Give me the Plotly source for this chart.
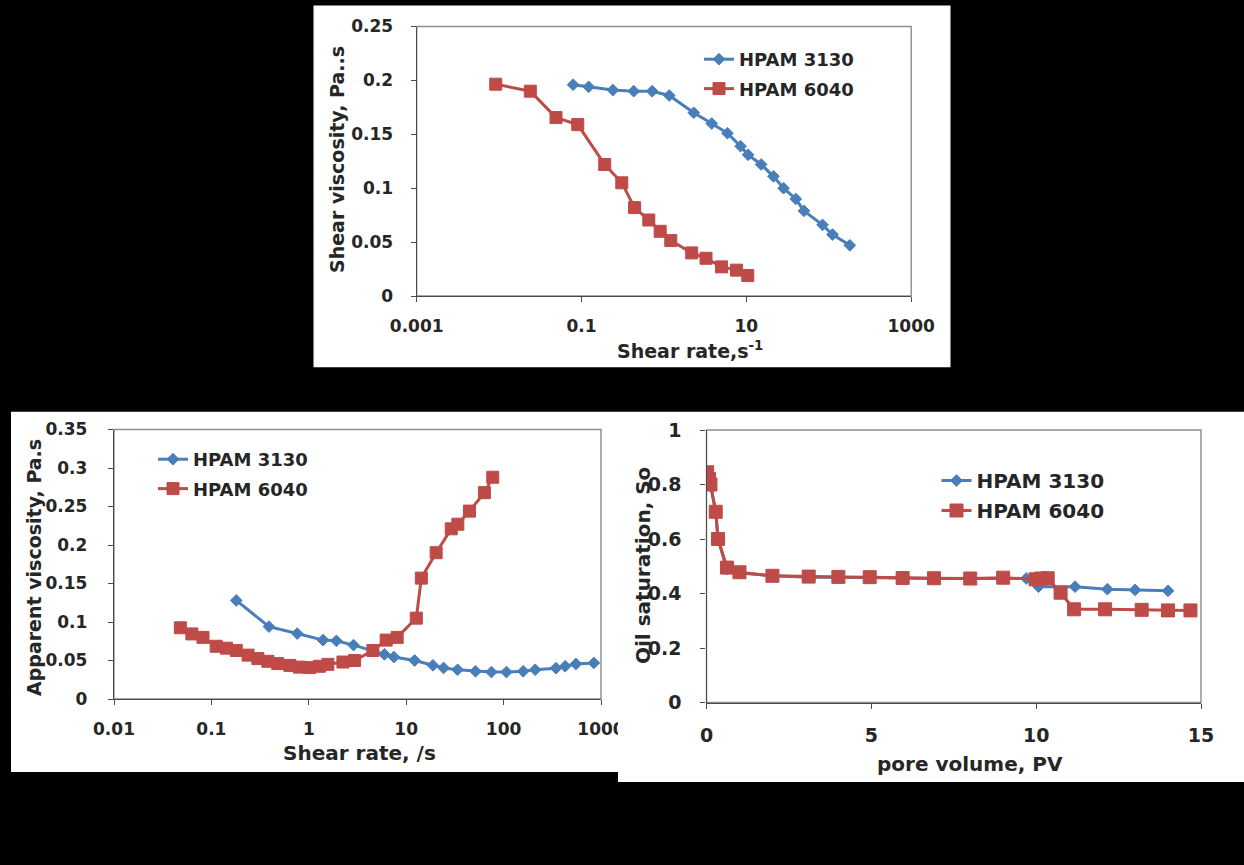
import plotly.graph_objects as go

# ---------------- data ----------------
series_names = ["HPAM 3130", "HPAM 6040"]

# Shear viscosity vs shear rate (top panel)
shear_rate_3130 = [0.079, 0.122, 0.24, 0.43, 0.72, 1.16, 2.3, 3.8, 5.9, 8.5, 10.5,
                   15.1, 21.3, 28.3, 39.8, 50, 84, 111, 180]
shear_visc_3130 = [0.196, 0.194, 0.191, 0.190, 0.190, 0.186, 0.170, 0.160, 0.151, 0.139,
                   0.131, 0.122, 0.111, 0.100, 0.090, 0.079, 0.066, 0.057, 0.047]
shear_rate_6040 = [0.0091, 0.0239, 0.049, 0.090, 0.191, 0.308, 0.44, 0.655, 0.90, 1.21,
                   2.17, 3.24, 5.0, 7.6, 10.4]
shear_visc_6040 = [0.1965, 0.190, 0.1655, 0.159, 0.122, 0.105, 0.082, 0.0705, 0.060,
                   0.0514, 0.040, 0.035, 0.027, 0.024, 0.019]

# Apparent viscosity vs shear rate (bottom-left panel)
app_rate_3130 = [0.18, 0.39, 0.76, 1.40, 1.92, 2.88, 5.98, 7.47, 12.2, 18.8, 24.2, 33.7,
                 51.5, 75, 107, 159, 211, 345, 429, 553, 844]
app_visc_3130 = [0.128, 0.094, 0.085, 0.0765, 0.0755, 0.070, 0.058, 0.0545, 0.050, 0.0437,
                 0.0403, 0.038, 0.036, 0.035, 0.035, 0.036, 0.038, 0.040, 0.0425, 0.0455,
                 0.0468]
app_rate_6040 = [0.048, 0.063, 0.082, 0.112, 0.143, 0.18, 0.238, 0.30, 0.38, 0.48, 0.64,
                 0.80, 1.02, 1.29, 1.57, 2.24, 2.95, 4.55, 6.23, 8.08, 12.7, 14.3, 20.3,
                 29, 33.9, 44.6, 63.5, 77.4]
app_visc_6040 = [0.0925, 0.0845, 0.080, 0.0685, 0.066, 0.063, 0.057, 0.0525, 0.049, 0.046,
                 0.0436, 0.0414, 0.0408, 0.0425, 0.045, 0.048, 0.050, 0.063, 0.0765, 0.080,
                 0.105, 0.157, 0.190, 0.221, 0.227, 0.244, 0.268, 0.288]

# Oil saturation vs injected pore volume (bottom-right panel)
pv_3130 = [0.02, 0.08, 0.12, 0.28, 0.35, 0.62, 1.0, 2.0, 3.1, 4.0, 4.95, 5.95, 6.9, 8.0,
           9.0, 9.7, 10.07, 11.18, 12.16, 13.0, 14.0]
so_3130 = [0.84, 0.82, 0.80, 0.70, 0.60, 0.49, 0.475, 0.465, 0.46, 0.46, 0.458, 0.456,
           0.455, 0.455, 0.455, 0.455, 0.425, 0.425, 0.416, 0.413, 0.41]
pv_6040 = [0.02, 0.08, 0.12, 0.28, 0.35, 0.62, 1.0, 2.0, 3.1, 4.0, 4.95, 5.95, 6.9, 8.0,
           9.0, 9.98, 10.15, 10.35, 10.74, 11.15, 12.09, 13.2, 14.0, 14.68]
so_6040 = [0.845, 0.82, 0.80, 0.70, 0.60, 0.495, 0.478, 0.465, 0.462, 0.461, 0.460, 0.457,
           0.456, 0.455, 0.458, 0.452, 0.455, 0.456, 0.403, 0.342, 0.342, 0.340, 0.338,
           0.338]

top_xticks = [0.001, 0.1, 10, 1000]
top_xticktext = ["0.001", "0.1", "10", "1000"]
left_xticks = [0.01, 0.1, 1, 10, 100, 1000]
left_xticktext = ["0.01", "0.1", "1", "10", "100", "1000"]

# ---------------- styling ----------------
W, H = 1244, 865
BLUE = "#4A7EBB"
RED = "#BE4B48"
FONT = "DejaVu Sans"
TXT = "#262626"
AXIS_DARK = "#4a4a4a"
FRAME_GRAY = "#8c8c8c"


def px(x):
    return x / W


def py(y):
    return 1 - y / H


def series(x, y, name, color, symbol, msize, axes, legend):
    return go.Scatter(
        x=x, y=y, name=name, mode="lines+markers",
        line=dict(color=color, width=3),
        marker=dict(symbol=symbol, size=msize, color=color,
                    line=dict(color=color, width=1)),
        xaxis=axes[0], yaxis=axes[1], legend=legend,
        legendgroup=legend + name,
    )


fig = go.Figure()
fig.add_trace(series(shear_rate_3130, shear_visc_3130, series_names[0], BLUE, "diamond", 9, ("x", "y"), "legend"))
fig.add_trace(series(shear_rate_6040, shear_visc_6040, series_names[1], RED, "square", 12, ("x", "y"), "legend"))
fig.add_trace(series(app_rate_3130, app_visc_3130, series_names[0], BLUE, "diamond", 9, ("x2", "y2"), "legend2"))
fig.add_trace(series(app_rate_6040, app_visc_6040, series_names[1], RED, "square", 12, ("x2", "y2"), "legend2"))
fig.add_trace(series(pv_3130, so_3130, series_names[0], BLUE, "diamond", 9, ("x3", "y3"), "legend3"))
fig.add_trace(series(pv_6040, so_6040, series_names[1], RED, "square", 13, ("x3", "y3"), "legend3"))


def axis(domain, size, anchor, standoff, **kw):
    d = dict(
        domain=domain, anchor=anchor, automargin=False,
        showline=True, mirror=False, linecolor=AXIS_DARK, linewidth=1.4,
        ticks="outside", ticklen=5, tickcolor=AXIS_DARK, tickwidth=1.3,
        showgrid=False, zeroline=False,
        tickfont=dict(family=FONT, size=size, color=TXT, weight="bold"),
        ticklabelstandoff=standoff,
    )
    d.update(kw)
    return d


# plot-area pixel boxes (left, right, top, bottom)
top_box = (416.7, 911.2, 26.5, 296.0)
bl_box = (114.0, 601.0, 429.5, 699.0)
br_box = (706.5, 1201.0, 430.0, 702.5)


def dom_x(b):
    return [px(b[0]), px(b[1])]


def dom_y(b):
    return [py(b[3]), py(b[2])]


def legend_style(x, y, size, gap):
    return dict(x=px(x), y=py(y), xanchor="left", yanchor="top",
                bgcolor="rgba(0,0,0,0)", tracegroupgap=gap,
                font=dict(family=FONT, size=size, color=TXT, weight="bold"))


fig.update_layout(
    width=W, height=H,
    margin=dict(l=0, r=0, t=0, b=0, autoexpand=False),
    paper_bgcolor="black", plot_bgcolor="white",
    font=dict(family=FONT, color=TXT),
    xaxis=axis(dom_x(top_box), 17, "y", 9, type="log", range=[-3, 3],
               tickvals=top_xticks, ticktext=top_xticktext),
    yaxis=axis(dom_y(top_box), 17, "x", 14, range=[0, 0.25], dtick=0.05),
    xaxis2=axis(dom_x(bl_box), 17, "y2", 9, type="log", range=[-2, 3],
                tickvals=left_xticks, ticktext=left_xticktext),
    yaxis2=axis(dom_y(bl_box), 17, "x2", 17, range=[0, 0.35], dtick=0.05),
    xaxis3=axis(dom_x(br_box), 19, "y3", 10, range=[0, 15], dtick=5),
    yaxis3=axis(dom_y(br_box), 19, "x3", 15, range=[0, 1], dtick=0.2),
    showlegend=True,
    legend=legend_style(699, 41, 18, 3),
    legend2=legend_style(153, 441, 18, 3),
    legend3=legend_style(936.5, 461, 20, 1),
)

# white chart panels on the black page
panels = [(313.5, 950.5, 5.5, 367.3), (11, 618, 411.7, 772), (618, 1244, 411.7, 782)]
for x0, x1, y0, y1 in panels:
    fig.add_shape(type="rect", xref="paper", yref="paper",
                  x0=px(x0), x1=px(x1), y0=py(y1), y1=py(y0),
                  fillcolor="white", line=dict(width=0), layer="below")
# the right panel overlaps the last tick label of the left panel
fig.add_shape(type="rect", xref="paper", yref="paper",
              x0=px(618), x1=px(645), y0=py(752), y1=py(712),
              fillcolor="white", line=dict(width=0), layer="above")

# light grey plot-area frames
for xa, ya in [("x", "y"), ("x2", "y2"), ("x3", "y3")]:
    fig.add_shape(type="rect", xref=xa + " domain", yref=ya + " domain",
                  x0=0, x1=1, y0=0, y1=1,
                  line=dict(color=FRAME_GRAY, width=1.4), layer="below")


def label(text, x, y, size, angle=0):
    fig.add_annotation(text=text, x=px(x), y=py(y), xref="paper", yref="paper",
                       showarrow=False, textangle=angle,
                       font=dict(family=FONT, size=size, color=TXT, weight="bold"),
                       xanchor="center", yanchor="middle")


label("Shear viscosity, Pa..s", 337, 160, 19, -90)
label("Shear rate,s<sup>-1</sup>", 690, 350, 19)
label("Apparent viscosity, Pa.s", 34, 568, 19, -90)
label("Shear rate, /s", 359, 753, 20)
label("Oil saturation, So", 643, 566, 20, -90)
label("pore volume, PV", 970, 764, 20)

fig.write_html("out.html")
